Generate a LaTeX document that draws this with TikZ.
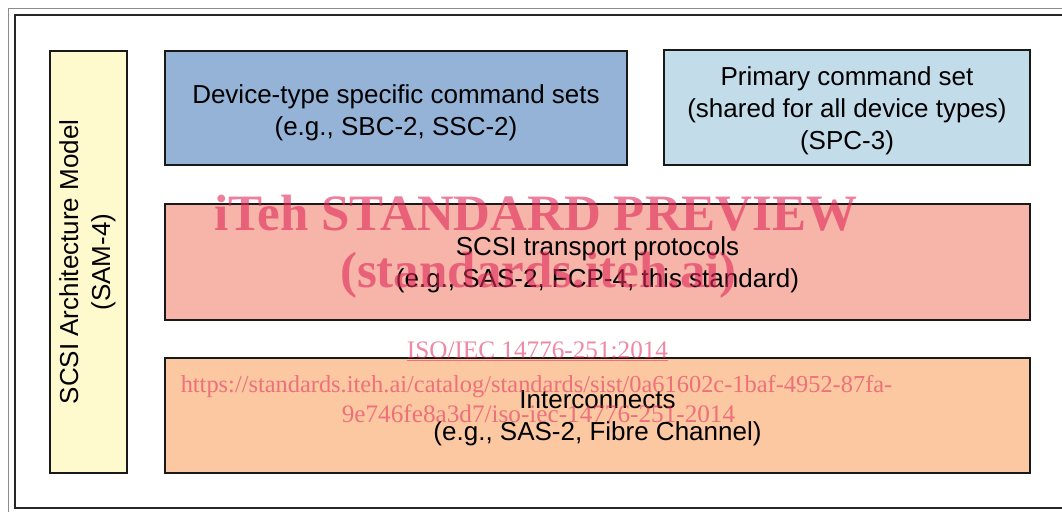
\documentclass[tikz,border=0pt]{standalone}
\usepackage{fontspec}
\setmainfont{Liberation Sans}
\newfontfamily\wmfont{Liberation Serif}
\definecolor{yel}{HTML}{FFFACD}
\definecolor{dblue}{HTML}{95B3D7}
\definecolor{lblue}{HTML}{C3DCE9}
\definecolor{salmon}{HTML}{F7B4A9}
\definecolor{peach}{HTML}{FCC8A1}
\definecolor{wm}{RGB}{225,40,90}
\tikzset{
  layerbox/.style={draw=black!90, line width=1.3pt, inner sep=0pt},
  layertext/.style={align=center, inner sep=0pt, font=\fontsize{26}{32}\selectfont},
  wmbig/.style={text=wm, text opacity=0.6, font=\wmfont\bfseries\fontsize{51}{51}\selectfont, anchor=base, inner sep=0pt},
  wmsmall/.style={text=wm, text opacity=0.55, font=\wmfont\fontsize{25.2}{25.2}\selectfont, anchor=base, inner sep=0pt}
}
\begin{document}
\begin{tikzpicture}[x=1pt,y=-1pt]
\useasboundingbox (0,0) rectangle (1062,511);
\fill[white] (0,0) rectangle (1062,511);
% frames
\draw[line width=1pt, black!45] (8,9) rectangle (1075,520);
\draw[line width=1.5pt, black!85] (15,15) rectangle (1070,508);
% boxes
\node[layerbox, fill=yel, minimum width=77pt, minimum height=422pt] (sam) at (88.5,262) {};
\node[layertext, rotate=90] (samt) at ([xshift=-1pt]sam.center) {SCSI Architecture Model\\(SAM-4)};
\node[layerbox, fill=dblue, minimum width=462pt, minimum height=114pt] (dev) at (396,108) {};
\node[layertext] (devt) at ([yshift=-5pt]dev.center) {Device-type specific command sets\\(e.g., SBC-2, SSC-2)};
\node[layerbox, fill=lblue, minimum width=366pt, minimum height=115pt] (spc) at (847,107.5) {};
\node[layertext] (spct) at ([yshift=-3pt]spc.center) {Primary command set\\(shared for all device types)\\(SPC-3)};
\node[layerbox, fill=salmon, minimum width=865pt, minimum height=116pt] (tp) at (597.5,262) {};
\node[layertext] (tpt) at ([yshift=-3pt]tp.center) {SCSI transport protocols\\(e.g., SAS-2, FCP-4, this standard)};
\node[layerbox, fill=peach, minimum width=865pt, minimum height=115pt] (ic) at (597.5,415.5) {};
\node[layertext] (ict) at ([yshift=-2.5pt]ic.center) {Interconnects\\(e.g., SAS-2, Fibre Channel)};
% watermark
\node[wmbig] (wm1) at (536,230) {iTeh STANDARD PREVIEW};
\node[wmbig] (wm2) at (538.5,287) {(standards.iteh.ai)};
\node[wmsmall] (wm3) at (537.5,358) {\underline{ISO/IEC 14776-251:2014}};
\node[wmsmall, font=\wmfont\fontsize{24.4}{24.4}\selectfont] (wm4) at (536.5,392) {https://standards.iteh.ai/catalog/standards/sist/0a61602c-1baf-4952-87fa-};
\node[wmsmall] (wm5) at (538.5,422) {9e746fe8a3d7/iso-iec-14776-251-2014};
\end{tikzpicture}
\end{document}
